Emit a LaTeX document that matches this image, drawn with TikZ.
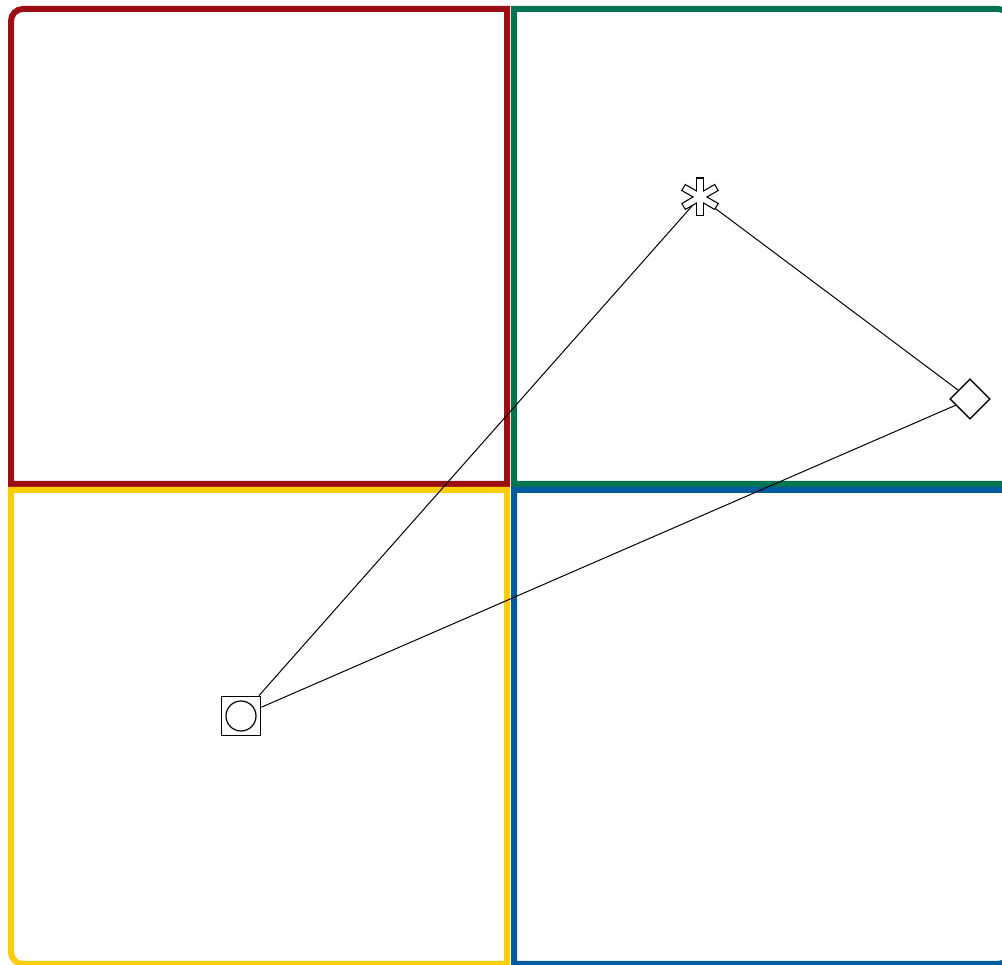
\documentclass[tikz,border=0pt]{standalone}
\usetikzlibrary{shapes.geometric}
\definecolor{qred}{RGB}{155,14,20}
\definecolor{qgreen}{RGB}{0,116,80}
\definecolor{qyellow}{RGB}{252,205,10}
\definecolor{qblue}{RGB}{0,90,158}
\tikzset{
  quad/.style={line width=6pt, line join=miter},
  link/.style={line width=1pt, black},
  symb/.style={draw=black, fill=white, line width=1.2pt, inner sep=0pt},
}
\begin{document}
\begin{tikzpicture}[x=1pt,y=1pt]
\useasboundingbox (0,0) rectangle (1002,965);
\clip (0,0) rectangle (1002,965);
% quadrants
\draw[quad, qred] (507,481) -- (11,481) -- (11,944) arc[start angle=180,end angle=90,radius=12] -- (507,956) -- cycle;
\draw[quad, qgreen] (514,481) -- (514,956) -- (998,956) arc[start angle=90,end angle=0,radius=12] -- (1010,481) -- cycle;
\draw[quad, qyellow] (507,475) -- (11,475) -- (11,13) arc[start angle=180,end angle=270,radius=12] -- (507,1) -- cycle;
\draw[quad, qblue] (514,475) -- (514,1) -- (998,1) arc[start angle=270,end angle=360,radius=12] -- (1010,475) -- cycle;
% nodes
\node[inner sep=0pt, minimum size=0pt] (ast) at (700,768) {};
\node[symb, diamond, minimum size=40pt] (dia) at (970,566) {};
\node[symb, rectangle, minimum size=39.5pt] (sq) at (241,249) {};
% connectors
\draw[link] (ast) -- (sq);
\draw[link] (ast) -- (dia);
\draw[link] (dia) -- (sq);
% redraw symbols on top
\node[symb, diamond, minimum size=40pt] at (dia.center) {};
\node[symb, rectangle, minimum size=39.5pt] at (sq.center) {};
\draw[line width=1.2pt] (sq.center) circle[radius=15pt];
% asterisk
\foreach \a in {90,30,150}
  \draw[line width=8pt, black, line cap=butt] ([shift={(\a:19.5pt)}]ast.center) -- ([shift={(\a+180:19.5pt)}]ast.center);
\foreach \a in {90,30,150}
  \draw[line width=5.6pt, white, line cap=butt] ([shift={(\a:18.3pt)}]ast.center) -- ([shift={(\a+180:18.3pt)}]ast.center);
\end{tikzpicture}
\end{document}
